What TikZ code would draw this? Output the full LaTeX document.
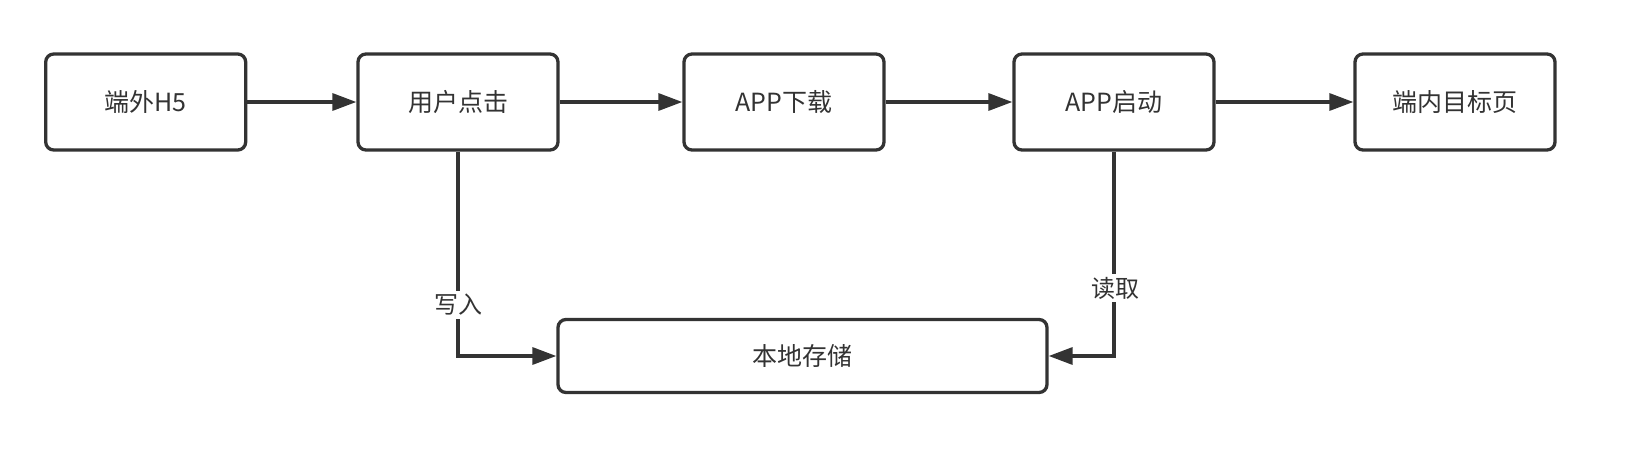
\documentclass[tikz,border=0pt]{standalone}
\usepackage{fontspec}
\setmainfont{Noto Sans CJK SC}
\usetikzlibrary{arrows.meta}
\definecolor{ink}{HTML}{333333}
\begin{document}
\begin{tikzpicture}[x=1pt,y=-1pt,
  box/.style={draw=ink,line width=3.3pt,rounded corners=8pt,fill=white,
    minimum width=200pt,minimum height=96pt,inner sep=0pt,text=ink,
    font=\fontsize{25}{29}\selectfont},
  conn/.style={draw=ink,line width=3.3pt,-{Triangle[length=24pt,width=17pt]}},
  lbl/.style={fill=white,text=ink,inner sep=3pt,font=\fontsize{24}{28}\selectfont}]
\useasboundingbox (0,0) rectangle (1632,458);
\node[box] (b1) at (145.7,102) {端外H5};
\node[box] (b2) at (458,102) {用户点击};
\node[box] (b3) at (784,102) {APP下载};
\node[box] (b4) at (1114,102) {APP启动};
\node[box] (b5) at (1455,102) {端内目标页};
\node[box,minimum width=489pt,minimum height=73pt] (st) at (802.5,356) {本地存储};
\draw[conn] (b1) -- (b2);
\draw[conn] (b2) -- (b3);
\draw[conn] (b3) -- (b4);
\draw[conn] (b4) -- (b5);
\draw[conn] (b2.south) |- (st.west);
\draw[conn] (b4.south) |- (st.east);
\node[lbl] (l1) at (458,305) {写入};
\node[lbl] (l2) at (1115,288) {读取};
\end{tikzpicture}
\end{document}
